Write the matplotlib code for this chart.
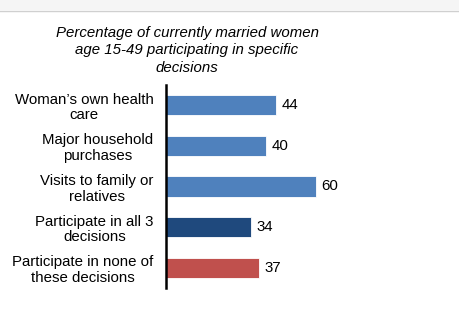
import matplotlib.pyplot as plt
from matplotlib.patches import Rectangle

plt.rcParams["font.family"] = ["Liberation Sans", "DejaVu Sans"]

# Decision participation, currently married women 15-49 (%)
categories = [
    "Woman\u2019s own health\ncare",
    "Major household\npurchases",
    "Visits to family or\nrelatives",
    "Participate in all 3\ndecisions",
    "Participate in none of\nthese decisions",
]
values = [44, 40, 60, 34, 37]
colors = ["#4F81BD", "#4F81BD", "#4F81BD", "#1F497D", "#C0504D"]

W, H = 459, 331
fig = plt.figure(figsize=(W / 100, H / 100), dpi=100)

# thin grey strip along the top edge
fig.patches.append(Rectangle((0, 1 - 10 / H), 1, 10 / H, transform=fig.transFigure,
                             facecolor="#f5f5f5", edgecolor="none", zorder=0))
fig.add_artist(plt.Line2D([0, 1], [1 - 10.5 / H, 1 - 10.5 / H], transform=fig.transFigure,
                          color="#d0d0d0", lw=1))

# axes: x from pixel 166, 2.5 px per unit; y spans pixels 85..288
ax_left = 166 / W
ax_w = 250 / W
ax_bottom = 1 - 288 / H
ax_h = (288 - 85) / H
ax = fig.add_axes([ax_left, ax_bottom, ax_w, ax_h])

y = list(range(len(values)))
ax.barh(y, values, height=0.5, color=colors, edgecolor="white", linewidth=0.6, zorder=2)
ax.set_xlim(0, 100)
ax.set_ylim(len(values) - 0.5, -0.5)

for yi, v in zip(y, values):
    ax.text(v + 2.2, yi, str(v), va="center", ha="left", fontsize=10.8, color="#000000")

ax.set_yticks(y)
ax.set_yticklabels(categories, fontsize=10.8, linespacing=1.15)
for lbl in ax.get_yticklabels():
    lbl.set_horizontalalignment("right")
    lbl.set_multialignment("center")
ax.tick_params(axis="y", length=0, pad=9)
ax.set_xticks([])

for side in ["top", "right", "bottom"]:
    ax.spines[side].set_visible(False)
ax.spines["left"].set_linewidth(1.8)
ax.spines["left"].set_color("#000000")

fig.text(187 / W, 1 - 26 / H,
         "Percentage of currently married women\nage 15-49 participating in specific\ndecisions",
         ha="center", va="top", fontsize=10.8, style="italic", linespacing=1.3)

fig.savefig("out.png", dpi=100)
